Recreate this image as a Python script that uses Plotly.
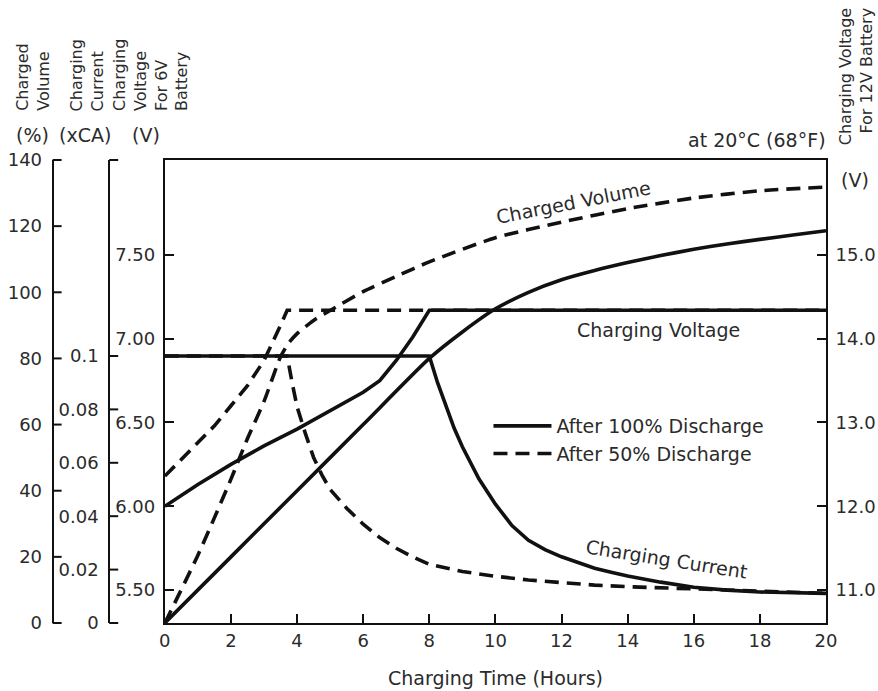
import plotly.graph_objects as go

# ---------------- data ----------------
hour_ticks = list(range(0, 21, 2))

# After 100% discharge
t_volt_100 = [0, 1, 2, 3, 4, 5, 6, 6.5, 7, 7.5, 8, 10, 12, 14, 16, 18, 20]
v_volt_100 = [6.00, 6.13, 6.25, 6.36, 6.46, 6.57, 6.68, 6.75, 6.87, 7.01, 7.17,
              7.17, 7.17, 7.17, 7.17, 7.17, 7.17]
t_curr_100 = [0, 2, 4, 6, 8, 8.25, 8.5, 8.75, 9, 9.5, 10, 10.5, 11, 11.5, 12,
              12.5, 13, 13.5, 14, 15, 16, 17, 18, 20]
i_curr_100 = [0.1, 0.1, 0.1, 0.1, 0.1, 0.090, 0.081, 0.073, 0.066, 0.054, 0.0445,
              0.0365, 0.031, 0.0275, 0.0248, 0.0225, 0.0205, 0.019, 0.0176,
              0.0153, 0.0134, 0.0123, 0.0116, 0.0111]
t_vol_100 = [0, 2, 4, 6, 8, 9, 10, 11, 12, 13, 14, 15, 16, 17, 18, 19, 20]
p_vol_100 = [0, 20, 40, 60, 80, 88, 95, 100, 103.8, 106.6, 109, 111.1, 113,
             114.6, 116.0, 117.3, 118.6]

# After 50% discharge
t_volt_50 = [0, 0.5, 1, 1.5, 2, 2.5, 3, 3.25, 3.5, 3.7, 5, 8, 10, 12, 14, 16, 18, 20]
v_volt_50 = [6.18, 6.28, 6.38, 6.48, 6.60, 6.72, 6.87, 6.97, 7.08, 7.17, 7.17,
             7.17, 7.17, 7.17, 7.17, 7.17, 7.17, 7.17]
t_curr_50 = [0, 1, 2, 3, 3.7, 3.85, 4.0, 4.25, 4.5, 4.75, 5, 5.5, 6, 6.5, 7, 7.5,
             8, 9, 10, 11, 12, 13, 14, 16, 18, 20]
i_curr_50 = [0.1, 0.1, 0.1, 0.1, 0.1, 0.090, 0.081, 0.071, 0.062, 0.0555, 0.050,
             0.043, 0.037, 0.032, 0.028, 0.0247, 0.022, 0.0193, 0.0175, 0.0161,
             0.015, 0.0142, 0.0136, 0.0128, 0.0117, 0.0111]
t_vol_50 = [0, 1, 2, 2.5, 3, 3.5, 3.75, 4, 4.5, 5, 6, 7, 8, 10, 12, 14, 16, 18, 20]
p_vol_50 = [0, 20.5, 43.5, 55.8, 67, 80.5, 84.7, 87.5, 91.5, 94.5, 100.2, 104.8,
            109.2, 116.5, 121.2, 125.3, 128.5, 130.7, 131.8]

vol_ticks = list(range(0, 141, 20))
curr_ticks = [0, 0.02, 0.04, 0.06, 0.08, 0.1]
curr_labels = ["0", "0.02", "0.04", "0.06", "0.08", "0.1"]
v6_ticks = [5.5, 6.0, 6.5, 7.0, 7.5]
v6_labels = ["5.50", "6.00", "6.50", "7.00", "7.50"]
v12_ticks = [11, 12, 13, 14, 15]
v12_labels = ["11.0", "12.0", "13.0", "14.0", "15.0"]

# ---------------- layout geometry ----------------
W, H = 878, 691
ML, MR, MT, MB = 0, 52, 160, 68
PW = W - ML - MR
PH = H - MT - MB
PLOT_LEFT = 160
HELPER_W = 17          # px width of the helper subplots carrying left scales


def px(x):
    return (x - ML) / PW


def py(y):
    return (H - MB - y) / PH


V6_RANGE = [5.303, 8.067]
V12_RANGE = [2 * V6_RANGE[0], 2 * V6_RANGE[1]]
VOL_RANGE = [0, 140]
CURR_RANGE = [0, 0.1734]

FONT = "DejaVu Sans"
TXT = "#2b2b2b"
LINE = "#111111"
DASH = "14px,8px"
LW = 3.6
TICKLEN = 9

fig = go.Figure()


def add(t, y, axis, dashed, name=None, show=False, smooth=False):
    fig.add_trace(go.Scatter(
        x=t, y=y, yaxis=axis, mode="lines",
        line=dict(color=LINE, width=LW, dash=DASH if dashed else "solid",
                  shape="spline" if smooth else "linear", smoothing=0.6),
        name=name, showlegend=show, hoverinfo="skip",
        legendgroup=name if name else None,
    ))


# dashed first, solid on top
add(t_volt_50, v_volt_50, "y", True)
add(t_curr_50, i_curr_50, "y3", True)
add(t_vol_50, p_vol_50, "y2", True, smooth=True)
add(t_volt_100, v_volt_100, "y", False)
add(t_curr_100, i_curr_100, "y3", False)
add(t_vol_100, p_vol_100, "y2", False, smooth=True)
# legend entries
add([None], [None], "y", False, "After 100% Discharge", True)
add([None], [None], "y", True, "After 50% Discharge", True)
fig.add_trace(go.Scatter(x=[None], y=[None], yaxis="y4", showlegend=False,
                         hoverinfo="skip"))

# tick marks of the two left-hand scale axes (short horizontal strokes that
# start at the axis line and point right), drawn on the helper subplots
for xa, ya, vals in (("x5", "y5", vol_ticks),
                     ("x6", "y6", curr_ticks + [CURR_RANGE[1]])):
    fig.add_trace(go.Scatter(
        x=[TICKLEN / 2 - 1] * len(vals), y=vals, xaxis=xa, yaxis=ya,
        mode="markers", showlegend=False, hoverinfo="skip", cliponaxis=False,
        marker=dict(symbol="line-ew", size=TICKLEN / 1.4, color=LINE,
                    line=dict(color=LINE, width=2)),
    ))

tickfont = dict(family=FONT, size=18, color=TXT)
axis_common = dict(showgrid=False, zeroline=False, showline=True,
                   linecolor=LINE, linewidth=2, ticks="inside", ticklen=TICKLEN,
                   tickwidth=2, tickcolor=LINE, tickfont=tickfont,
                   fixedrange=True)
left_scale = dict(axis_common, ticks="", ticklabelstandoff=6)
helper_x = dict(visible=True, range=[0, HELPER_W], fixedrange=True,
                showline=False, showticklabels=False, ticks="",
                showgrid=False, zeroline=False)

fig.update_layout(
    width=W, height=H, autosize=False,
    margin=dict(l=ML, r=MR, t=MT, b=MB),
    paper_bgcolor="white", plot_bgcolor="rgba(0,0,0,0)",
    font=dict(family=FONT, color=TXT),
    xaxis=dict(domain=[px(PLOT_LEFT), 1], range=[0, 20], tickvals=hour_ticks,
               mirror=True, **axis_common),
    yaxis=dict(range=V6_RANGE, tickvals=v6_ticks, ticktext=v6_labels,
               anchor="x", side="left", ticklabelstandoff=4, **axis_common),
    # data scales for charged volume and current (shown on the left axes below)
    yaxis2=dict(range=VOL_RANGE, overlaying="y", visible=False, fixedrange=True),
    yaxis3=dict(range=CURR_RANGE, overlaying="y", visible=False, fixedrange=True),
    yaxis4=dict(range=V12_RANGE, tickvals=v12_ticks, ticktext=v12_labels,
                anchor="x", overlaying="y", side="right",
                ticklabelstandoff=4, **axis_common),
    # left-hand scale axes
    xaxis5=dict(domain=[px(48), px(48 + HELPER_W)], anchor="y5", **helper_x),
    yaxis5=dict(range=VOL_RANGE, tickvals=vol_ticks, anchor="x5", side="left",
                **left_scale),
    xaxis6=dict(domain=[px(105), px(105 + HELPER_W)], anchor="y6", **helper_x),
    yaxis6=dict(range=CURR_RANGE, tickvals=curr_ticks + [CURR_RANGE[1]],
                ticktext=curr_labels + [""], anchor="x6", side="left",
                **left_scale),
    legend=dict(x=px(486), y=py(407), xanchor="left", yanchor="top",
                font=dict(family=FONT, size=19, color=TXT),
                bgcolor="rgba(0,0,0,0)", itemwidth=58, tracegroupgap=0,
                traceorder="grouped"),
    showlegend=True,
)


def note(text, x, y, size=19, angle=0, xanchor="center", yanchor="middle",
         align="center"):
    fig.add_annotation(text=text, x=px(x), y=py(y), xref="paper", yref="paper",
                       showarrow=False, textangle=angle, xanchor=xanchor,
                       yanchor=yanchor, align=align,
                       font=dict(family=FONT, size=size, color=TXT))


# axis headers
note("Charged<br>Volume", 27, 113, size=16, angle=-90, yanchor="bottom", align="left")
note("Charging<br>Current", 82, 113, size=16, angle=-90, yanchor="bottom", align="left")
note("Charging<br>Voltage<br>For 6V<br>Battery", 146, 113, size=16, angle=-90,
     yanchor="bottom", align="left")
note("Charging Voltage<br>For 12V Battery", 856, 6, size=16, angle=-90,
     yanchor="top", align="right")
note("(%)", 27, 135)
note("(xCA)", 80, 135)
note("(V)", 141, 135)
note("(V)", 855, 180)
note("at 20°C (68°F)", 756, 140)
note("Charging Time (Hours)", 493, 678)

# in-plot labels
note("Charged Volume", 572, 202, angle=-11)
note("Charging Voltage", 657, 330)
note("Charging Current", 665, 559, angle=9)

fig.write_html("out.html")
